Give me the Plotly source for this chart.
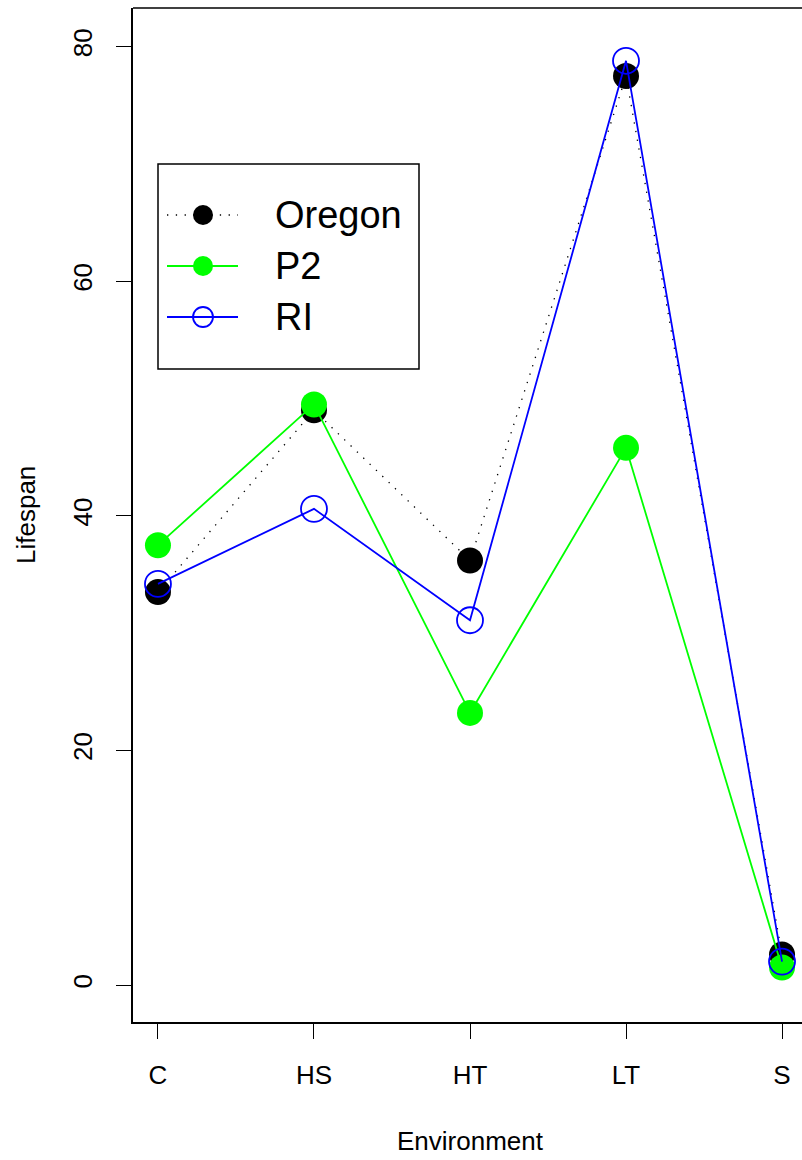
import plotly.graph_objects as go

categories = ["C", "HS", "HT", "LT", "S"]
oregon = [33.5, 49.0, 36.2, 77.5, 2.6]
p2 = [37.5, 49.5, 23.2, 45.8, 1.5]
ri = [34.2, 40.6, 31.1, 78.8, 2.0]
ytick_vals = [0, 20, 40, 60, 80]
series_names = ["Oregon", "P2", "RI"]

xpos = list(range(1, len(categories) + 1))
FONT = "Liberation Sans, Arial, sans-serif"
BLACK, GREEN, BLUE = "black", "#00FF00", "#0000FF"
DOT = "1.3px,7.5px"

styles = [
    dict(line=dict(color=BLACK, width=1.3, dash=DOT), symbol="circle", mcolor=BLACK, mline=0),
    dict(line=dict(color=GREEN, width=1.8), symbol="circle", mcolor=GREEN, mline=0),
    dict(line=dict(color=BLUE, width=1.8), symbol="circle-open", mcolor=BLUE, mline=1.8),
]

fig = go.Figure()
for name, vals, st in zip(series_names, [oregon, p2, ri], styles):
    fig.add_trace(go.Scatter(x=xpos, y=vals, name=name, mode="lines+markers",
                             line=st["line"], showlegend=False,
                             marker=dict(symbol=st["symbol"], size=26, color=st["mcolor"],
                                         line=dict(width=st["mline"], color=st["mcolor"]))))

# manual legend drawn on a pixel-based overlay axis (x2/y2)
L_LEFT, L_RIGHT, L_TOP, L_BOTTOM = 158, 419, 164, 369
row_y = [215, 266, 317]
seg_x0, seg_x1, sym_x, txt_x = 167, 238, 203, 273
shapes = [dict(type="line", xref="paper", yref="paper", x0=0, x1=1, y0=1, y1=1,
               line=dict(color="black", width=1.5)),
          dict(type="rect", xref="x2", yref="y2", x0=L_LEFT, x1=L_RIGHT, y0=L_TOP, y1=L_BOTTOM,
               line=dict(color="black", width=1.5), fillcolor="rgba(0,0,0,0)")]
annotations = []
for name, st, ry in zip(series_names, styles, row_y):
    shapes.append(dict(type="line", xref="x2", yref="y2", x0=seg_x0, x1=seg_x1, y0=ry, y1=ry,
                       line=st["line"]))
    fig.add_trace(go.Scatter(x=[sym_x], y=[ry], xaxis="x2", yaxis="y2", mode="markers",
                             showlegend=False, hoverinfo="skip",
                             marker=dict(symbol=st["symbol"], size=20, color=st["mcolor"],
                                         line=dict(width=st["mline"], color=st["mcolor"]))))
    annotations.append(dict(text=name, xref="x2", yref="y2", x=txt_x, y=ry, xanchor="left",
                            yanchor="middle", showarrow=False, font=dict(size=38)))

annotations += [
    dict(text="Environment", xref="paper", yref="paper", x=(470 - 133) / 669, y=-0.117,
         xanchor="center", yanchor="middle", showarrow=False, font=dict(size=26)),
    dict(text="Lifespan", xref="paper", yref="paper", x=(26 - 133) / 669, y=0.5, textangle=-90,
         xanchor="center", yanchor="middle", showarrow=False, font=dict(size=26)),
]

fig.update_layout(
    width=802, height=1160,
    margin=dict(l=133, r=0, t=8, b=138),
    paper_bgcolor="white", plot_bgcolor="white",
    font=dict(family=FONT, size=26, color="black"),
    showlegend=False,
    xaxis=dict(range=[0.84, 5.128], tickmode="array", tickvals=xpos, ticktext=categories,
               showgrid=False, zeroline=False, showline=True, linecolor="black", linewidth=1.5,
               ticks="outside", ticklen=15, tickwidth=1.2, tickcolor="black",
               ticklabelstandoff=14),
    yaxis=dict(range=[-3.15, 83.3], tickmode="array", tickvals=ytick_vals,
               ticktext=[str(v) for v in ytick_vals], tickangle=-90,
               showgrid=False, zeroline=False, showline=True, linecolor="black", linewidth=1.5,
               ticks="outside", ticklen=15, tickwidth=1.2, tickcolor="black",
               ticklabelstandoff=14),
    xaxis2=dict(overlaying="x", range=[133, 802], visible=False, fixedrange=True),
    yaxis2=dict(overlaying="y", range=[1022, 8], visible=False, fixedrange=True),
    shapes=shapes,
    annotations=annotations,
)

fig.write_html("out.html")
